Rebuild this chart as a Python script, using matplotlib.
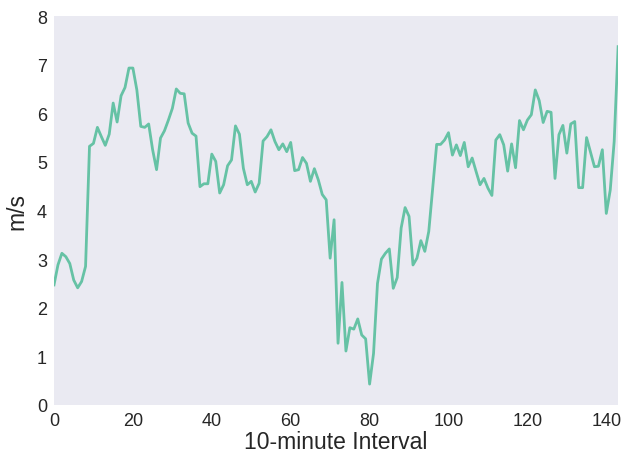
import matplotlib
matplotlib.use("Agg")
from matplotlib import pyplot as plt
import numpy as np

# wind speed, one value per 10-minute interval (144 per day)
speed = [
    2.47, 2.88, 3.12, 3.05, 2.91, 2.57, 2.41, 2.54, 2.85, 5.32,
    5.38, 5.71, 5.52, 5.34, 5.57, 6.21, 5.82, 6.36, 6.53, 6.93,
    6.93, 6.48, 5.73, 5.71, 5.78, 5.25, 4.84, 5.49, 5.64, 5.86,
    6.10, 6.50, 6.41, 6.40, 5.80, 5.59, 5.53, 4.49, 4.55, 4.55,
    5.16, 5.01, 4.36, 4.53, 4.92, 5.04, 5.74, 5.57, 4.87, 4.53,
    4.60, 4.38, 4.56, 5.43, 5.52, 5.66, 5.42, 5.25, 5.37, 5.21,
    5.40, 4.82, 4.84, 5.09, 4.97, 4.60, 4.86, 4.63, 4.33, 4.22,
    3.02, 3.81, 1.27, 2.52, 1.11, 1.59, 1.56, 1.77, 1.44, 1.36,
    0.43, 1.06, 2.50, 3.00, 3.12, 3.21, 2.40, 2.62, 3.64, 4.06,
    3.88, 2.88, 3.02, 3.38, 3.16, 3.57, 4.46, 5.36, 5.36, 5.45,
    5.60, 5.14, 5.35, 5.13, 5.40, 4.90, 5.08, 4.80, 4.53, 4.66,
    4.46, 4.31, 5.45, 5.56, 5.35, 4.81, 5.37, 4.88, 5.85, 5.66,
    5.86, 5.97, 6.48, 6.26, 5.81, 6.04, 6.02, 4.66, 5.56, 5.75,
    5.18, 5.78, 5.83, 4.47, 4.47, 5.50, 5.20, 4.90, 4.91, 5.25,
    3.94, 4.42, 5.42, 7.37,
]
interval = np.arange(len(speed))

x_ticks = [0, 20, 40, 60, 80, 100, 120, 140]
y_ticks = [0, 1, 2, 3, 4, 5, 6, 7, 8]

plt.rcParams['font.family'] = ['Liberation Sans', 'DejaVu Sans']

fig = plt.figure(figsize=(6.25, 4.6), dpi=100)
ax = fig.add_axes([0.0864, 0.1174, 0.9026, 0.8456])
ax.set_facecolor('#EAEAF2')
for s in ax.spines.values():
    s.set_visible(False)

ax.plot(interval, speed, color='#66c2a5', linewidth=2)

ax.set_xlim(0, len(speed) - 1)
ax.set_ylim(0, 8)
ax.set_xticks(x_ticks)
ax.set_yticks(y_ticks)
ax.tick_params(length=0, labelsize=13, colors='#262626', pad=5)
ax.set_xlabel('10-minute Interval', fontsize=16.5, color='#262626', labelpad=1)
ax.set_ylabel('m/s', fontsize=16.5, color='#262626', labelpad=6)

fig.savefig('out.png', dpi=100)
